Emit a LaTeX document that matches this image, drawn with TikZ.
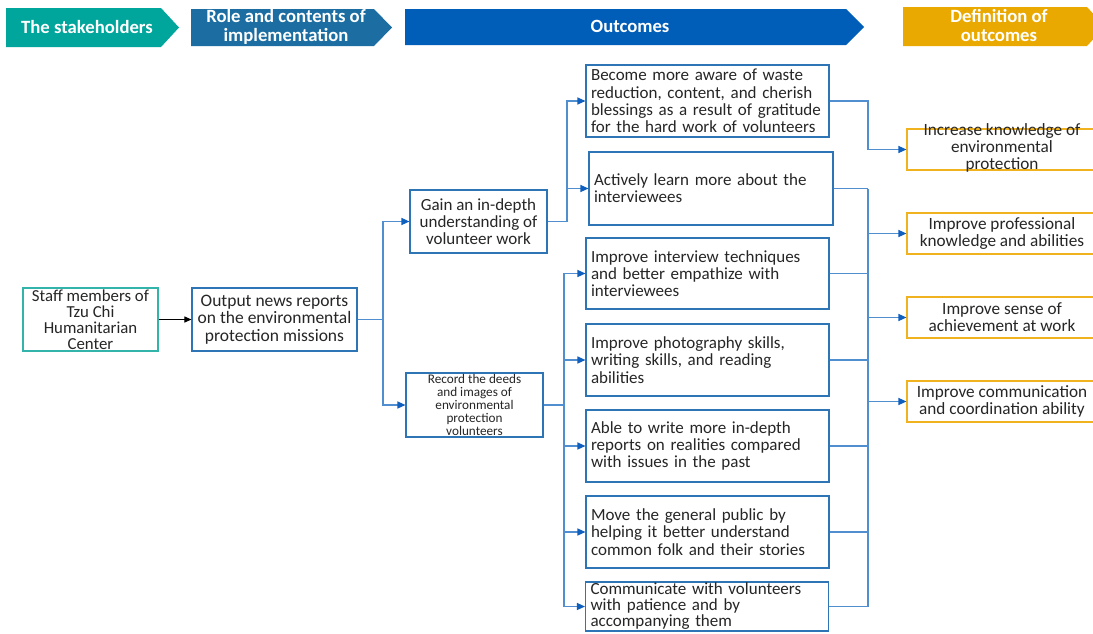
\documentclass[tikz,border=0pt]{standalone}
\usepackage{fontspec}
\setmainfont{Carlito}
\usetikzlibrary{arrows.meta}
\definecolor{hteal}{RGB}{0,165,155}
\definecolor{hblue}{RGB}{28,110,162}
\definecolor{hout}{RGB}{0,93,184}
\definecolor{hgold}{RGB}{233,169,0}
\definecolor{boxblue}{RGB}{46,117,182}
\definecolor{boxteal}{RGB}{50,180,170}
\definecolor{boxgold}{RGB}{240,178,30}
\definecolor{linecol}{RGB}{80,142,208}
\definecolor{tipcol}{RGB}{15,95,190}
\definecolor{txt}{RGB}{38,38,38}
\tikzset{
  hdrtext/.style={text=white, font=\bfseries\fontsize{18.7}{19}\selectfont, align=center, inner sep=0pt},
  obox/.style={draw=boxblue, line width=1.1pt, text=txt, font=\fontsize{17}{17.3}\selectfont,
    text width=233pt, align=left, inner xsep=5pt, inner ysep=0pt, minimum height=72pt},
  cbox/.style={draw=boxblue, line width=1.1pt, text=txt, align=center, inner sep=0pt},
  gbox/.style={draw=boxgold, line width=1.1pt, minimum width=190pt, minimum height=41pt, inner sep=0pt},
  gtext/.style={text=txt, font=\fontsize{17.2}{17}\selectfont, align=center, inner sep=0pt},
  wire/.style={draw=linecol, line width=1.2pt},
  conn/.style={wire, -{Triangle[length=8pt,width=7pt,color=tipcol]}},
}
\begin{document}
\begin{tikzpicture}[x=1pt,y=-1pt]
\path[use as bounding box] (0,0) rectangle (1093,633);
\clip (0,0) rectangle (1093,633);
\fill[white] (0,0) rectangle (1093,633);

% headers
\fill[hteal] (6,8) -- (161,8) -- (179,27.5) -- (161,47) -- (6,47) -- cycle;
\node[hdrtext] (h1) at (87,27) {The stakeholders};
\fill[hblue] (191,9) -- (374,9) -- (392,27.5) -- (374,46) -- (191,46) -- cycle;
\node[hdrtext] (h2) at (286,26.5) {Role and contents of\\implementation};
\fill[hout] (405,9) -- (846,9) -- (864,27) -- (846,45) -- (405,45) -- cycle;
\node[hdrtext] (h3) at (630,26) {Outcomes};
\fill[hgold] (903,7) -- (1087,7) -- (1105,26.5) -- (1087,46) -- (903,46) -- cycle;
\node[hdrtext] (h4) at (999,25) {Definition of\\outcomes};

% left boxes
\node[draw=boxteal, line width=1.1pt, text=txt, align=center, inner sep=0pt,
  minimum width=135pt, minimum height=63pt, font=\fontsize{16.8}{16}\selectfont]
  (staff) at (90.5,319.5) {Staff members of\\Tzu Chi\\Humanitarian\\Center};
\node[cbox, minimum width=165pt, minimum height=63pt, font=\fontsize{17.5}{17.5}\selectfont]
  (out) at (274.5,319.5) {Output news reports\\on the environmental\\protection missions};
\node[cbox, minimum width=137pt, minimum height=63pt, font=\fontsize{17}{17}\selectfont]
  (gain) at (478.5,221.5) {Gain an in-depth\\understanding of\\volunteer work};
\node[cbox, minimum width=137pt, minimum height=64pt, font=\fontsize{13.2}{12.8}\selectfont]
  (rec) at (474.5,405) {Record the deeds\\and images of\\environmental\\protection\\volunteers};

% outcome boxes
\node[obox] (b1) at (707.5,101) {Become more aware of waste\\reduction, content, and cherish\\blessings as a result of gratitude\\for the hard work of volunteers};
\node[obox, text width=234pt, minimum height=73pt] (b2) at (711,188.5) {Actively learn more about the\\interviewees};
\node[obox, minimum height=71pt] (b3) at (707.5,273.5) {Improve interview techniques\\and better empathize with\\interviewees};
\node[obox] (b4) at (707.5,360) {Improve photography skills,\\writing skills, and reading\\abilities};
\node[obox] (b5) at (707.5,446) {Able to write more in-depth\\reports on realities compared\\with issues in the past};
\node[obox] (b6) at (707.5,532) {Move the general public by\\helping it better understand\\common folk and their stories};
\node[obox, minimum height=49pt, font=\fontsize{17}{16}\selectfont] (b7) at (707,606.5) {Communicate with volunteers\\with patience and by\\accompanying them};

% definition boxes
\node[gbox] (g1) at (1002,149.5) {};
\node[gtext] (g1t) at (1002,147.5) {Increase knowledge of\\environmental\\protection};
\node[gbox] (g2) at (1002,233.5) {};
\node[gtext] (g2t) at (1002,233) {Improve professional\\knowledge and abilities};
\node[gbox] (g3) at (1002,317.5) {};
\node[gtext] (g3t) at (1002,317) {Improve sense of\\achievement at work};
\node[gbox] (g4) at (1002,401.5) {};
\node[gtext] (g4t) at (1002,401) {Improve communication\\and coordination ability};

% connectors
\draw[black, line width=1pt, -{Triangle[length=7pt,width=6pt]}] (staff) -- (out);

\coordinate (tL) at (383,319.5);
\draw[wire] (out.east) -- (tL);
\draw[conn] (tL) |- (gain.west);
\draw[conn] (tL) |- (rec.west);

\coordinate (gT) at (567,221.5);
\draw[wire] (gain.east) -- (gT);
\draw[conn] (gT) |- (b1.west);
\draw[conn] (gT) |- (b2.west);

\coordinate (rT) at (564,405);
\draw[wire] (rec.east) -- (rT);
\foreach \b in {b3,b4,b5,b6,b7} { \draw[conn] (rT) |- (\b.west); }

\coordinate (cR) at (868,0);
\draw[conn] (b1.east) -- (b1.east -| cR) |- (g1.west);
\foreach \b in {b2,b3,b4,b5,b6,b7} { \draw[wire] (\b.east) -- (\b.east -| cR); }
\draw[wire] (b2.east -| cR) -- (b7.east -| cR);
\foreach \g in {g2,g3,g4} { \draw[conn] (\g.west -| cR) -- (\g.west); }
\end{tikzpicture}
\end{document}
